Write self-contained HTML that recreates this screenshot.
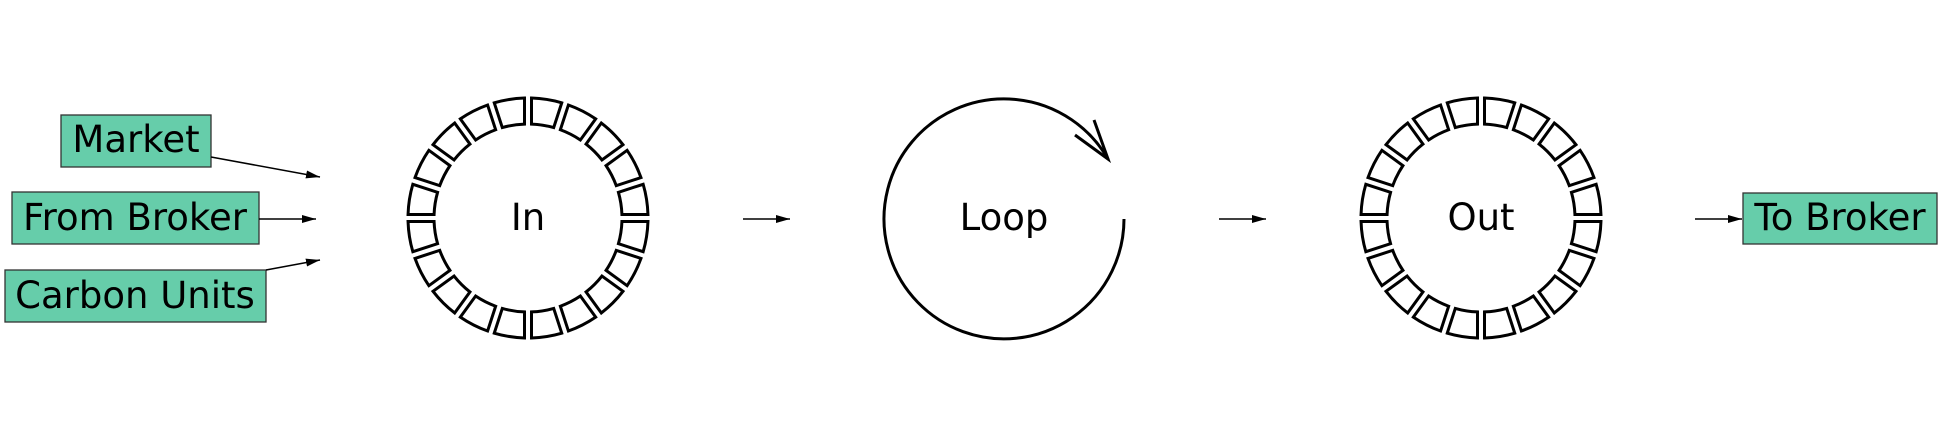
<!DOCTYPE html>
<html><head><meta charset="utf-8"><style>
html,body{margin:0;padding:0;background:#fff;}
svg{display:block;}
text{font-family:"DejaVu Sans","Liberation Sans",sans-serif;font-size:37px;fill:#000;}
</style></head><body>
<svg id="s" width="1943" height="439" viewBox="0 0 1943 439" xmlns="http://www.w3.org/2000/svg">
<defs>
<marker id="b" viewBox="0 0 14 8" markerWidth="14" markerHeight="8" refX="14" refY="4" orient="auto" markerUnits="userSpaceOnUse"><path d="M0,0 L14,4 L0,8 z" fill="#000"/></marker></defs>
<g stroke="#333" stroke-width="1.3" fill="#66cdaa">
<rect x="61" y="115" width="150" height="52"/>
<rect x="12" y="192" width="247" height="52"/>
<rect x="5" y="270" width="261" height="52"/>
<rect x="1743" y="193" width="194" height="51"/>
</g>
<text x="136" y="152" text-anchor="middle">Market</text>
<text x="135" y="230" text-anchor="middle">From Broker</text>
<text x="135" y="308" text-anchor="middle">Carbon Units</text>
<text x="1840" y="230" text-anchor="middle">To Broker</text>
<g stroke="#000" stroke-width="1.5" fill="none" marker-end="url(#b)">
<line x1="211" y1="157" x2="320" y2="177"/>
<line x1="259" y1="219" x2="316" y2="219"/>
<line x1="266" y1="270" x2="320" y2="260"/>
<line x1="743" y1="219" x2="790" y2="219"/>
<line x1="1219" y1="219" x2="1266" y2="219"/>
<line x1="1695" y1="219" x2="1742" y2="219"/>
</g>
<g id="rings" stroke="#000" stroke-width="3" fill="#fff"></g>
<path d="M1124,219 A120,120 0 1 1 1108,159" stroke="#000" stroke-width="3" fill="none"/>
<path d="M1094,120 L1108,159 L1075,135" stroke="#000" stroke-width="3" fill="none"/>
<text x="528" y="230" text-anchor="middle">In</text>
<text x="1004" y="230" text-anchor="middle">Loop</text>
<text x="1481" y="230" text-anchor="middle">Out</text>
</svg>
<script>
(function(){
var g=document.getElementById('rings'),ns='http://www.w3.org/2000/svg';
function ring(cx,cy){
 var ro=120,ri=94,h=3.5;
 for(var i=0;i<20;i++){
  var c=(18*i+9)*Math.PI/180,hw=9*Math.PI/180;
  var ao0=c-hw+h/ro,ao1=c+hw-h/ro,ai0=c-hw+h/ri,ai1=c+hw-h/ri;
  var p='M'+(cx+ro*Math.cos(ao0))+','+(cy+ro*Math.sin(ao0))+
   ' A'+ro+','+ro+' 0 0 1 '+(cx+ro*Math.cos(ao1))+','+(cy+ro*Math.sin(ao1))+
   ' L'+(cx+ri*Math.cos(ai1))+','+(cy+ri*Math.sin(ai1))+
   ' A'+ri+','+ri+' 0 0 0 '+(cx+ri*Math.cos(ai0))+','+(cy+ri*Math.sin(ai0))+' Z';
  var e=document.createElementNS(ns,'path');e.setAttribute('d',p);g.appendChild(e);
 }
}
ring(528,218);ring(1481,218);
})();
</script>
</body></html>
